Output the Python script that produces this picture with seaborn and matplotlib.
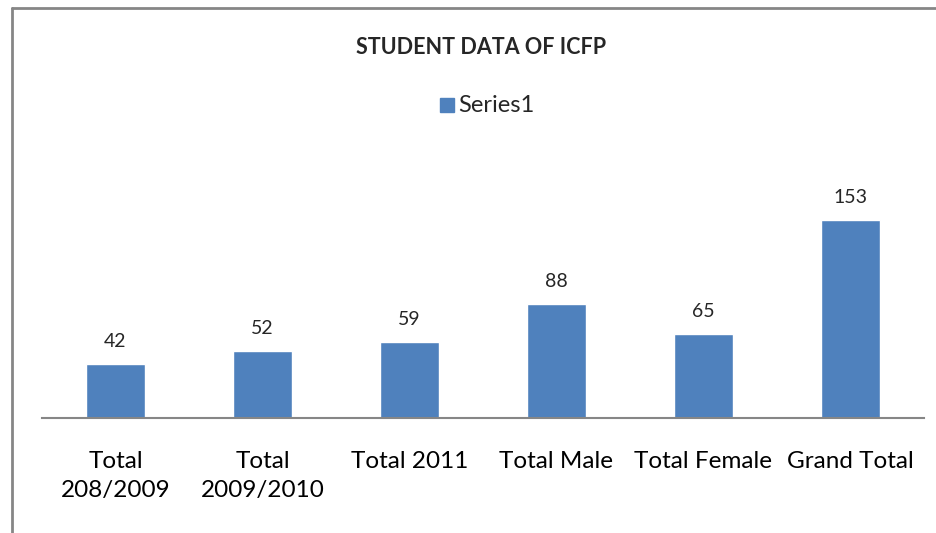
import matplotlib
matplotlib.use("Agg")
import matplotlib.pyplot as plt
from matplotlib.lines import Line2D
import seaborn as sns
import pandas as pd

categories = ["Total\n208/2009", "Total\n2009/2010", "Total 2011", "Total Male", "Total Female", "Grand Total"]
values = [42, 52, 59, 88, 65, 153]
series_name = "Series1"
title = "STUDENT DATA OF ICFP"

sns.set_theme(style="white")
plt.rcParams['font.family'] = ['Lato', 'DejaVu Sans']

W, H = 936, 533
fig = plt.figure(figsize=(W / 100, H / 100), dpi=100)
ax = fig.add_axes([42 / W, (H - 418) / H, (924 - 42) / W, (418 - 185) / H])

df = pd.DataFrame({"cat": categories, "val": values, "series": series_name})
sns.barplot(data=df, x="cat", y="val", hue="series", palette=["#4F81BD"], width=0.4,
            ax=ax, saturation=1, legend=False)
ax.set_ylim(0, 180)
ax.set_xlim(-0.5, len(categories) - 0.5)
ax.set_xlabel("")
ax.set_ylabel("")
ax.set_yticks([])
for s in ["top", "right", "left"]:
    ax.spines[s].set_visible(False)
ax.spines["bottom"].set_color("#868686")
ax.spines["bottom"].set_linewidth(1.5)
ax.tick_params(axis="x", length=0, pad=24, labelsize=17.5, colors="black")
for lbl in ax.get_xticklabels():
    lbl.set_linespacing(1.45)
    lbl.set_verticalalignment("top")

for c in ax.containers:
    ax.bar_label(c, labels=[str(v) for v in values], padding=10, fontsize=14)

fig.text(481 / W, 1 - 47 / H, title, ha="center", va="center", fontsize=15.5, fontweight="bold")
# legend
fig.patches.append(plt.Rectangle((440 / W, 1 - 112 / H), 14 / W, 14 / H,
                                 transform=fig.transFigure, color="#4F81BD", figure=fig))
fig.text(458 / W, 1 - 105 / H, series_name, ha="left", va="center", fontsize=17)

# chart border
fig.add_artist(Line2D([12 / W, 1], [1 - 8 / H, 1 - 8 / H], transform=fig.transFigure,
                      color="#868686", lw=2))
fig.add_artist(Line2D([12 / W, 12 / W], [0, 1 - 8 / H], transform=fig.transFigure,
                      color="#868686", lw=2))

fig.savefig("out.png", dpi=100)
